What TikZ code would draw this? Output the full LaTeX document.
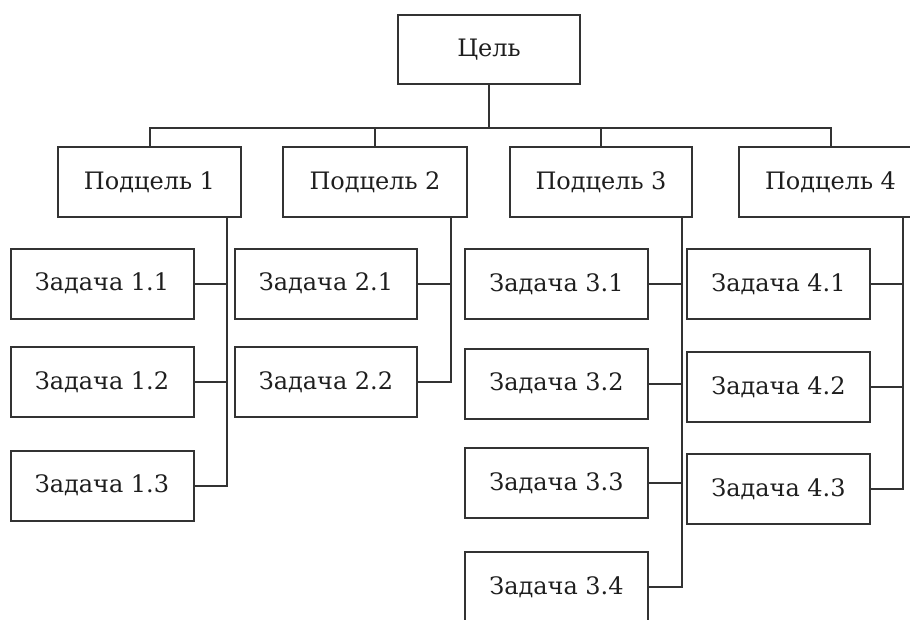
\documentclass[tikz,border=0pt]{standalone}
\usepackage{fontspec}
\setmainfont{DejaVu Serif}
\definecolor{ln}{HTML}{333333}
\definecolor{tx}{HTML}{1E1E1E}
\begin{document}
\begin{tikzpicture}[x=1pt,y=-1pt,
  box/.style={draw=ln, line width=2pt, minimum height=70pt, minimum width=183pt,
    inner sep=0pt, text=tx, font=\fontsize{24}{28}\selectfont},
  conn/.style={draw=ln, line width=2pt}]
\useasboundingbox (0,0) rectangle (910,619);
\begin{scope}
\clip (0,0) rectangle (910,619);
\node[box, minimum width=182pt, minimum height=69pt] (goal) at (489,49.5) {Цель};
\node[box] (p1) at (149.5,182) {Подцель 1};
\node[box, minimum width=184pt] (p2) at (375,182) {Подцель 2};
\node[box, minimum width=182pt] (p3) at (601,182) {Подцель 3};
\node[box] (p4) at (830.5,182) {Подцель 4};

\node[box] (t11) at (102,283.5) {Задача 1.1};
\node[box] (t12) at (102,382) {Задача 1.2};
\node[box] (t13) at (102,485.5) {Задача 1.3};

\node[box, minimum width=182pt] (t21) at (326,283.5) {Задача 2.1};
\node[box, minimum width=182pt] (t22) at (326,382) {Задача 2.2};

\node[box] (t31) at (556.5,284) {Задача 3.1};
\node[box] (t32) at (556.5,383.5) {Задача 3.2};
\node[box] (t33) at (556.5,483) {Задача 3.3};
\node[box] (t34) at (556.5,587) {Задача 3.4};

\node[box] (t41) at (778.5,284) {Задача 4.1};
\node[box] (t42) at (778.5,387) {Задача 4.2};
\node[box] (t43) at (778.5,489) {Задача 4.3};

\coordinate (bar) at (489,128);
\coordinate (s1) at (227,0);
\coordinate (s2) at (451,0);
\coordinate (s3) at (682,0);
\coordinate (s4) at (903,0);

\draw[conn] (goal.south) -- (bar);
\draw[conn] (p1.north) -- (p1.north |- bar) -- (p4.north |- bar) -- (p4.north);
\draw[conn] (p2.north) -- (p2.north |- bar);
\draw[conn] (p3.north) -- (p3.north |- bar);

\draw[conn] (p1.south -| s1) -- (t13.east -| s1) -- (t13.east);
\draw[conn] (t11.east) -- (t11.east -| s1);
\draw[conn] (t12.east) -- (t12.east -| s1);

\draw[conn] (p2.south -| s2) -- (t22.east -| s2) -- (t22.east);
\draw[conn] (t21.east) -- (t21.east -| s2);

\draw[conn] (p3.south -| s3) -- (t34.east -| s3) -- (t34.east);
\draw[conn] (t31.east) -- (t31.east -| s3);
\draw[conn] (t32.east) -- (t32.east -| s3);
\draw[conn] (t33.east) -- (t33.east -| s3);

\draw[conn] (p4.south -| s4) -- (t43.east -| s4) -- (t43.east);
\draw[conn] (t41.east) -- (t41.east -| s4);
\draw[conn] (t42.east) -- (t42.east -| s4);
\end{scope}
\end{tikzpicture}
\end{document}
